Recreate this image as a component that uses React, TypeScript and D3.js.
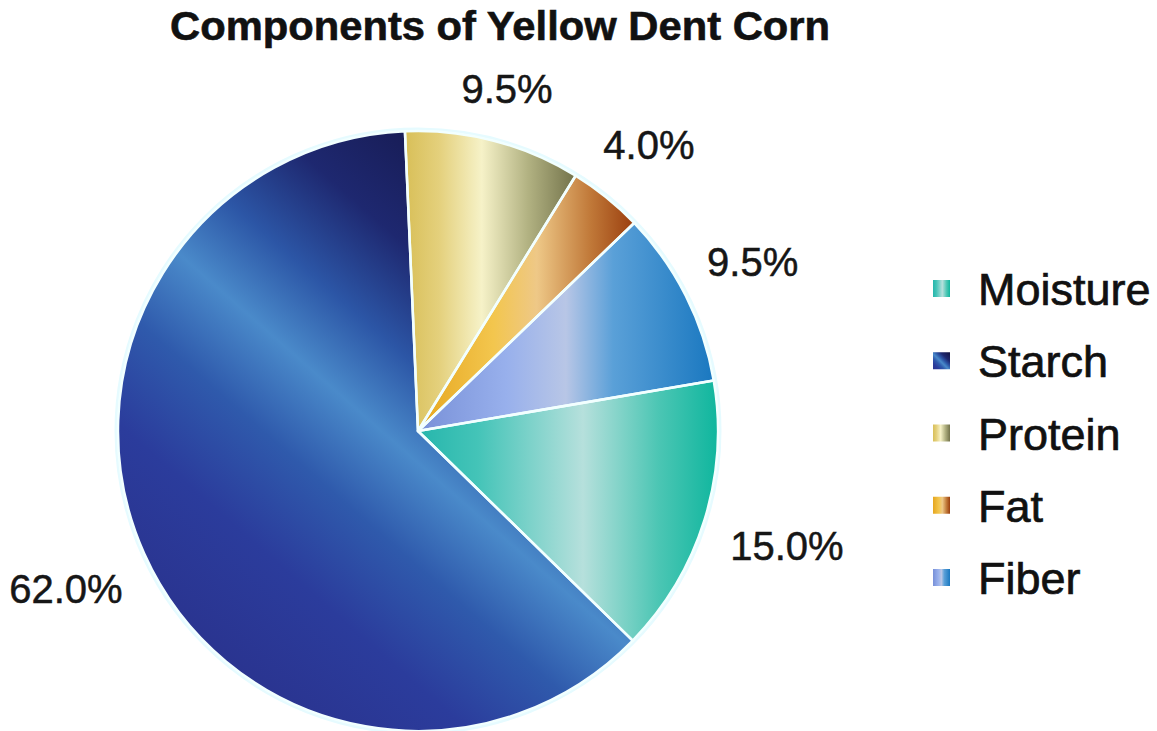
import React from "react";
import * as d3 from "d3";

const categories = ["Moisture", "Starch", "Protein", "Fat", "Fiber"];
const values = [15.0, 62.0, 9.5, 4.0, 9.5];
const title = "Components of Yellow Dent Corn";
const startDeg = 80.3;

const W = 1157;
const H = 731;
const cx = 418;
const cy = 431;
const R = 300;
const labelFont = 40;
const legendFont = 45;

type Stop = [number, string];
const gradients: Record<string, { dir: [number, number, number, number]; stops: Stop[] }> = {
  Moisture: {
    dir: [0, 0, 1, 0],
    stops: [[0, "#26b6ac"], [0.2, "#44c4b8"], [0.55, "#b6e0dc"], [0.8, "#4cc6b4"], [1, "#0fb69e"]],
  },
  Starch: {
    dir: [1, 0, 0, 1],
    stops: [[0, "#12123f"], [0.28, "#1e2870"], [0.42, "#2c56a6"], [0.54, "#4a8aca"], [0.67, "#2f5aac"], [0.82, "#2b3c9c"], [1, "#2a3490"]],
  },
  Protein: {
    dir: [0, 0, 1, 0],
    stops: [[0, "#d8bf58"], [0.2, "#e4d07c"], [0.45, "#f6f2c8"], [0.72, "#b2b282"], [1, "#72724a"]],
  },
  Fat: {
    dir: [0, 0, 1, 0],
    stops: [[0, "#e6a61e"], [0.35, "#f3c64e"], [0.55, "#eec887"], [0.8, "#c07838"], [1, "#9a3e0e"]],
  },
  Fiber: {
    dir: [0, 0, 1, 0],
    stops: [[0, "#7890d8"], [0.3, "#98b0ec"], [0.5, "#b8c6e6"], [0.66, "#5aa0d8"], [1, "#1a78c0"]],
  },
};

export default function App() {
  const pie = d3
    .pie<number>()
    .sort(null)
    .value((d) => d)
    .startAngle((startDeg * Math.PI) / 180)
    .endAngle(((startDeg + 360) * Math.PI) / 180);
  const arcs = pie(values);
  const arc = d3.arc<d3.PieArcDatum<number>>().innerRadius(0).outerRadius(R);
  const fmt = (v: number) => d3.format(".1f")(v) + "%";

  const legendY = d3.scaleLinear().domain([0, categories.length - 1]).range([305, 594]);

  const gradDefs = categories.map((c) => {
    const g = gradients[c];
    return (
      <linearGradient key={c} id={`g-${c}`} x1={g.dir[0]} y1={g.dir[1]} x2={g.dir[2]} y2={g.dir[3]}>
        {g.stops.map(([o, col], i) => (
          <stop key={i} offset={o} stopColor={col} />
        ))}
      </linearGradient>
    );
  });

  // user-space gradient for starch (diagonal band through the pie), relative to pie centre
  const nx = 0.658, ny = -0.753;
  const starchUser = (
    <linearGradient id="g-Starch-user" gradientUnits="userSpaceOnUse" x1={nx * R} y1={ny * R} x2={-nx * R} y2={-ny * R}>
      {gradients.Starch.stops.map(([o, col], i) => (
        <stop key={i} offset={o} stopColor={col} />
      ))}
    </linearGradient>
  );

  return (
    <svg
      width={W}
      height={H}
      viewBox={`0 0 ${W} ${H}`}
      style={{ position: "absolute", left: 0, top: 0, background: "#fff" }}
      fontFamily="'Liberation Sans', Arial, sans-serif"
    >
      <defs>
        {gradDefs}
        {starchUser}
      </defs>
      <rect x={0} y={0} width={W} height={H} fill="#fff" />
      <text
        x={500}
        y={40}
        textAnchor="middle"
        fontWeight="bold"
        fontSize={40}
        textLength={660}
        lengthAdjust="spacingAndGlyphs"
        fill="#111"
        stroke="#111"
        strokeWidth={0.6}
      >
        {title}
      </text>
      <g transform={`translate(${cx},${cy})`}>
        <circle r={R + 2} fill="none" stroke="#e6fbff" strokeWidth={3} />
        {arcs.map((a, i) => (
          <path
            key={categories[i]}
            d={arc(a) || ""}
            fill={categories[i] === "Starch" ? "url(#g-Starch-user)" : `url(#g-${categories[i]})`}
          />
        ))}
        {arcs.map((a, i) => (
          <path key={"o" + i} d={arc(a) || ""} fill="none" stroke="#f2ffff" strokeWidth={2.5} strokeLinejoin="round" />
        ))}
      </g>
      {arcs.map((a, i) => {
        const mid = (a.startAngle + a.endAngle) / 2;
        const txt = fmt(values[i]);
        const w = txt.length * 0.567 * labelFont;
        const h = 0.72 * labelFont;
        const d = R + 28 + Math.abs(Math.sin(mid)) * (w / 2) + Math.abs(Math.cos(mid)) * (h / 2);
        const x = cx + d * Math.sin(mid);
        const y = cy - d * Math.cos(mid);
        return (
          <text key={"l" + i} x={x} y={y + h / 2} textAnchor="middle" fontSize={labelFont} fill="#161616" stroke="#161616" strokeWidth={0.5}>
            {txt}
          </text>
        );
      })}
      {categories.map((c, i) => {
        const by = legendY(i);
        return (
          <g key={"lg" + c}>
            <rect x={933} y={by - 25} width={17} height={17} fill={`url(#g-${c})`} />
            <text x={978} y={by} fontSize={legendFont} fill="#111" stroke="#111" strokeWidth={0.7}>
              {c}
            </text>
          </g>
        );
      })}
    </svg>
  );
}
